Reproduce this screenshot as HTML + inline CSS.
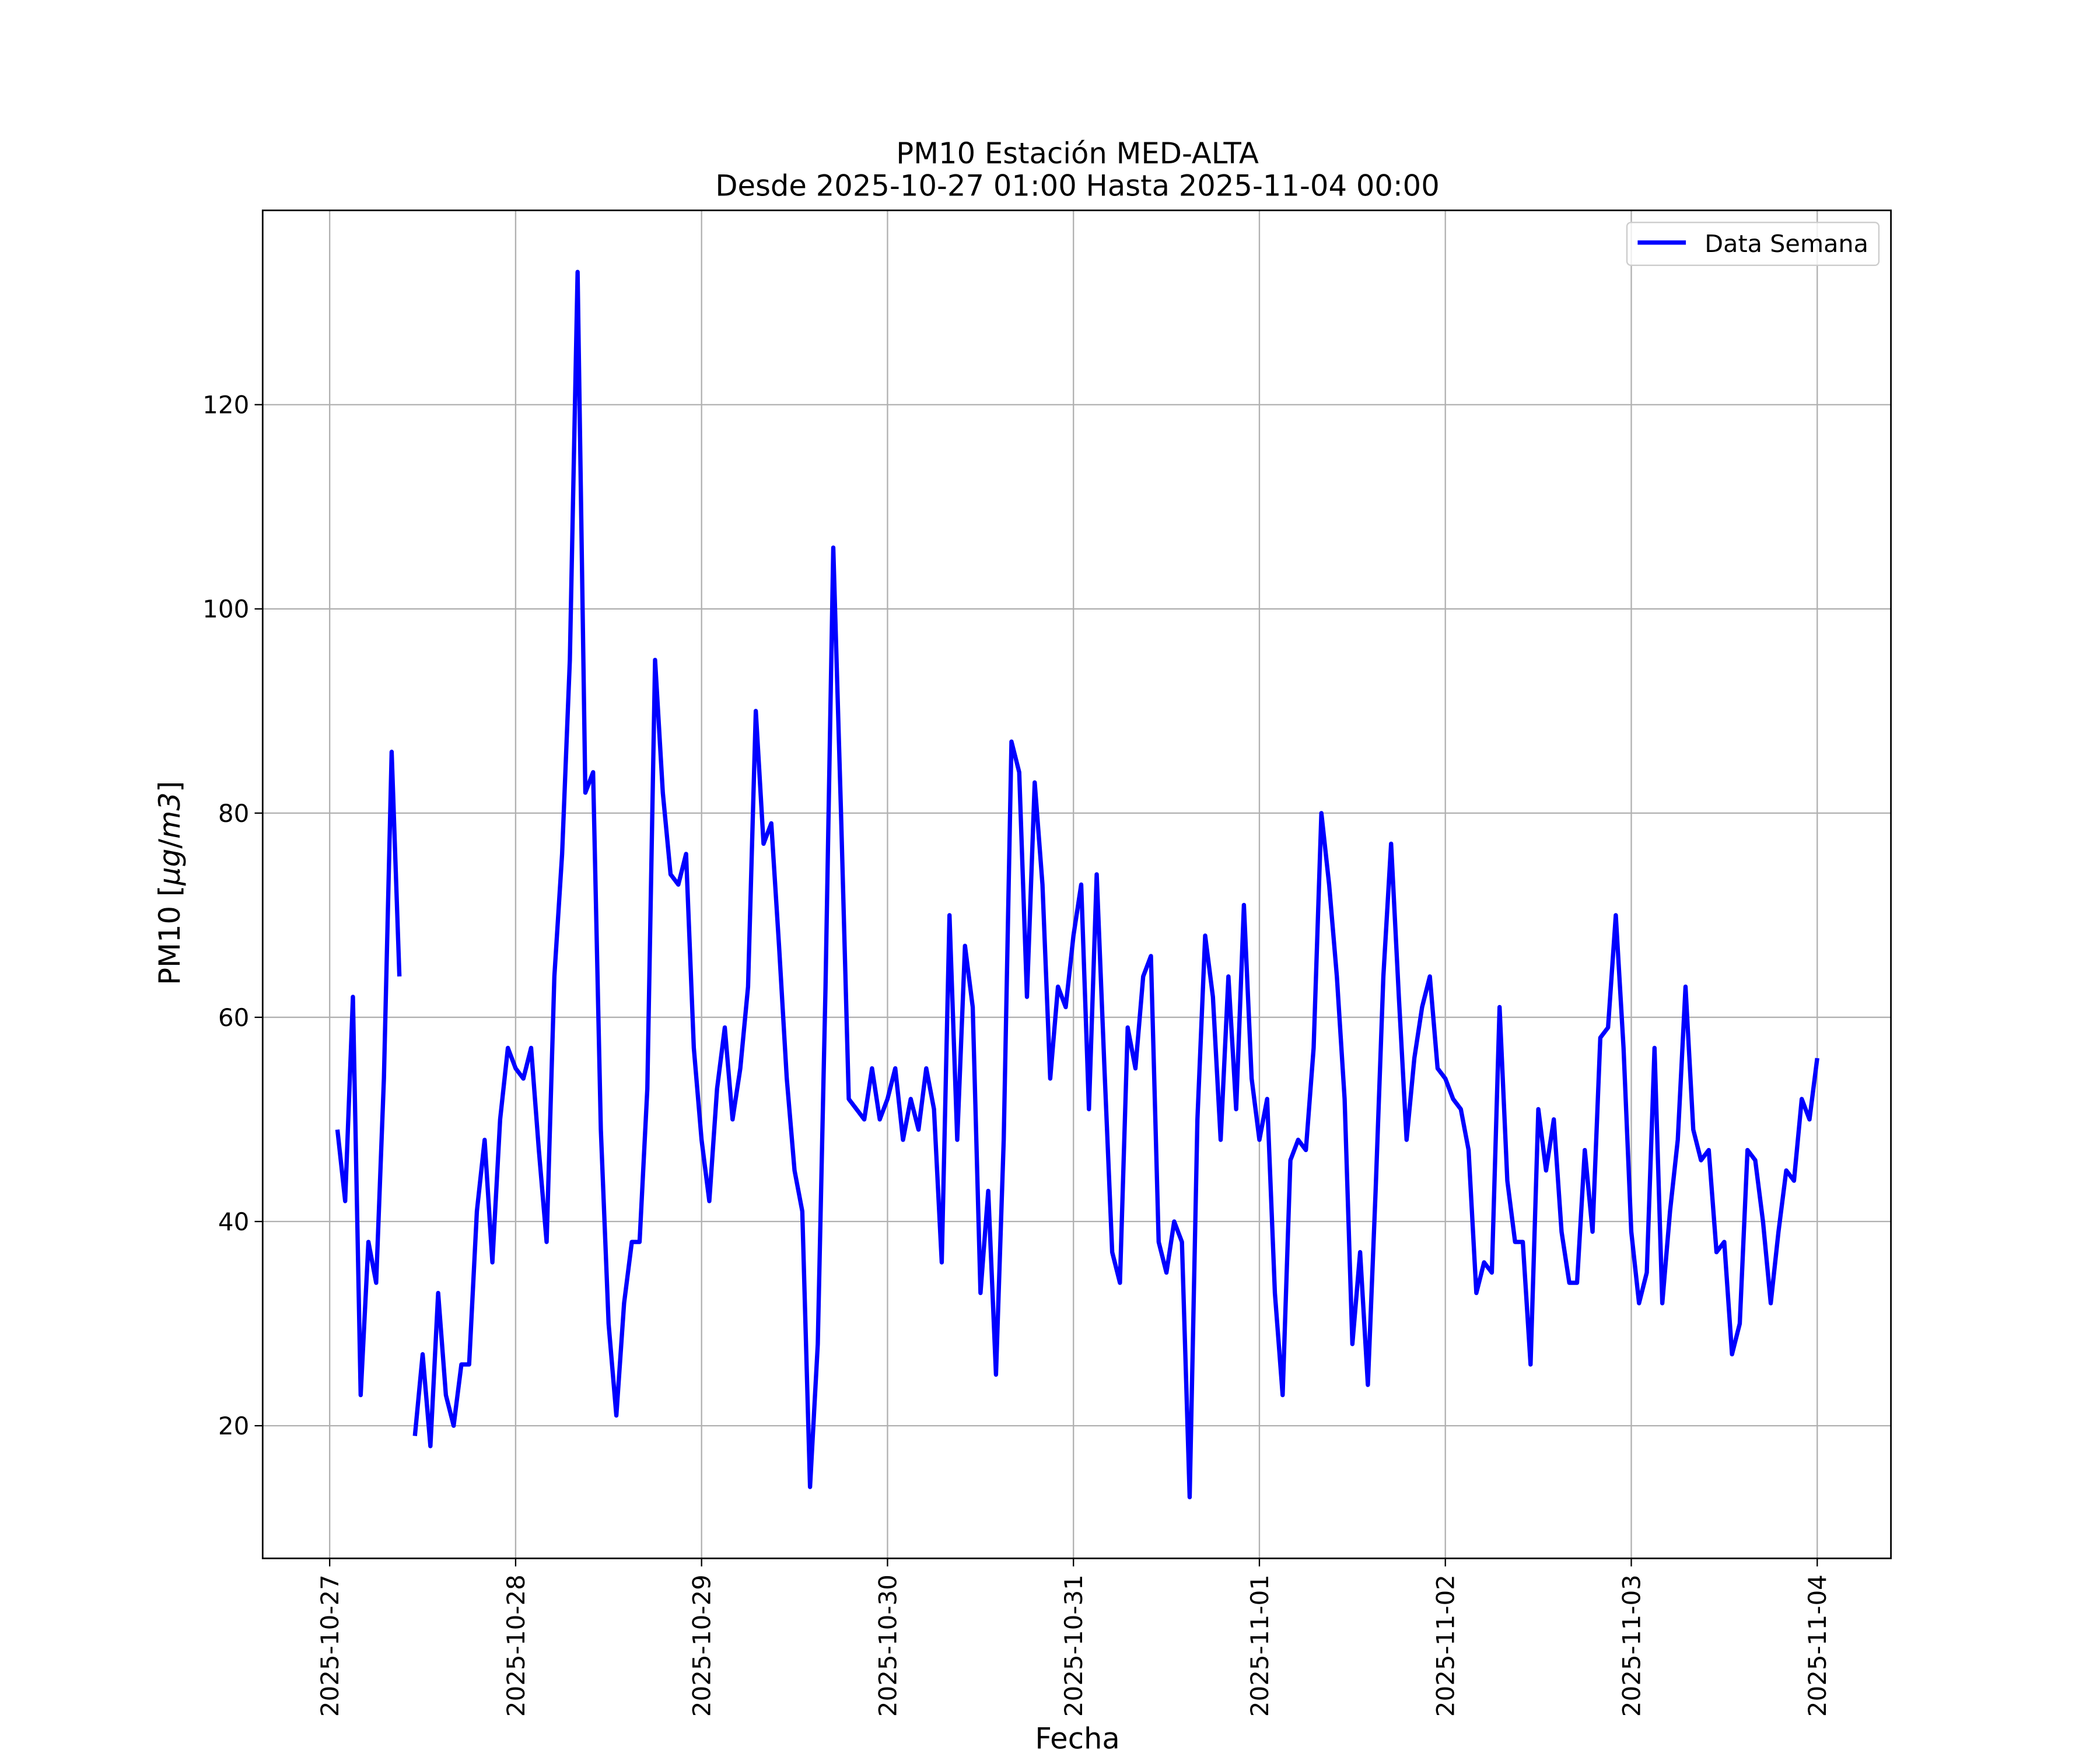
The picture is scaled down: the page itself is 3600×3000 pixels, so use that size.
<!DOCTYPE html>
<html><head><meta charset="utf-8">
<style>html,body{margin:0;padding:0;background:#fff}svg{display:block}text{font-family:"DejaVu Sans","Liberation Sans",sans-serif;fill:#000}</style>
</head><body>
<svg id="chart" width="3600" height="3000" viewBox="0 0 1567 1306" preserveAspectRatio="none" xmlns="http://www.w3.org/2000/svg">
<rect x="0" y="0" width="1567" height="1306" fill="#fff"/>
<text x="804" y="122" font-size="21.6" text-anchor="middle">PM10 Estación MED-ALTA</text>
<text x="804" y="146" font-size="21.6" text-anchor="middle">Desde 2025-10-27 01:00 Hasta 2025-11-04 00:00</text>
<g id="grid"></g>
<g id="series"></g>
<rect x="196" y="157" width="1215" height="1006" fill="none" stroke="#000" stroke-width="1.2"/>
<g id="ticks"></g>
<text x="0" y="0" font-size="21.6" text-anchor="middle" transform="translate(134,659) rotate(-90)">PM10 [<tspan font-style="italic">μg</tspan>/<tspan font-style="italic">m3</tspan>]</text>
<text x="804" y="1305" font-size="21.6" text-anchor="middle">Fecha</text>
<g>
<rect x="1214" y="166" width="188" height="32" rx="3" fill="#fff" fill-opacity="0.8" stroke="#ccc" stroke-width="1"/>
<line x1="1222" y1="181" x2="1258" y2="181" stroke="#0000ff" stroke-width="3.2"/>
<text x="1272" y="188" font-size="18">Data Semana</text>
</g>
</svg>
<script>
const xTickLabels = ["2025-10-27","2025-10-28","2025-10-29","2025-10-30","2025-10-31","2025-11-01","2025-11-02","2025-11-03","2025-11-04"];
const yTickValues = [20,40,60,80,100,120];
const pm10Values = [49,42,62,23,38,34,54,86,64,null,19,27,18,33,23,20,26,26,41,48,36,50,57,55,
54,57,47,38,64,76,95,133,82,84,49,30,21,32,38,38,53,95,82,74,73,76,57,48,
42,53,59,50,55,63,90,77,79,67,54,45,41,14,28,63,106,80,52,51,50,55,50,52,
55,48,52,49,55,51,36,70,48,67,61,33,43,25,48,87,84,62,83,73,54,63,61,68,
73,51,74,55,37,34,59,55,64,66,38,35,40,38,13,50,68,62,48,64,51,71,54,48,
52,33,23,46,48,47,57,80,73,64,52,28,37,24,43,64,77,62,48,56,61,64,55,54,
52,51,47,33,36,35,61,44,38,38,26,51,45,50,39,34,34,47,39,58,59,70,57,39,
32,35,57,32,41,48,63,49,46,47,37,38,27,30,47,46,40,32,39,45,44,52,50,56];
const NS="http://www.w3.org/2000/svg";
const L=196,R=1411,T=157,B=1163;
function xScale(hoursFromStart){return 246+hoursFromStart*(1356-246)/192;}
function yScale(v){return 1216.4-v*(1064-302)/100;}
const grid=document.getElementById('grid'),ticks=document.getElementById('ticks'),series=document.getElementById('series');
function mk(tag,attrs,parent){const e=document.createElementNS(NS,tag);for(const k in attrs)e.setAttribute(k,attrs[k]);parent.appendChild(e);return e;}
xTickLabels.forEach((lab,i)=>{
  const x=xScale(i*24);
  const g=mk('line',{x1:x,y1:T,x2:x,y2:B,stroke:'#b0b0b0','stroke-width':1},grid);
  
  
  const t=mk('line',{x1:x,y1:B,x2:x,y2:B+6,stroke:'#000','stroke-width':1},ticks);
  
  
  const tx=mk('text',{x:0,y:0,'font-size':18.3,'text-anchor':'end',transform:`translate(${x+6.5},${B+12}) rotate(-90)`},ticks);
  tx.textContent=lab;
  
  
});
yTickValues.forEach(v=>{
  const y=yScale(v);
  const g=mk('line',{x1:L,y1:y,x2:R,y2:y,stroke:'#b0b0b0','stroke-width':1},grid);
  
  
  const t=mk('line',{x1:L-6,y1:y,x2:L,y2:y,stroke:'#000','stroke-width':1},ticks);
  
  
  const tx=mk('text',{x:L-10,y:y+6.5,'font-size':18.3,'text-anchor':'end'},ticks);
  tx.textContent=v;
  
  
});
let d='',pen=false;
pm10Values.forEach((v,i)=>{
  if(v===null){pen=false;return;}
  d+=(pen?'L':'M')+xScale(i+1).toFixed(2)+' '+yScale(v).toFixed(2)+' ';
  pen=true;
});
const path=mk('path',{d:d,fill:'none',stroke:'#0000ff','stroke-width':3.2,'stroke-linejoin':'round'},series);


</script>
</body></html>
